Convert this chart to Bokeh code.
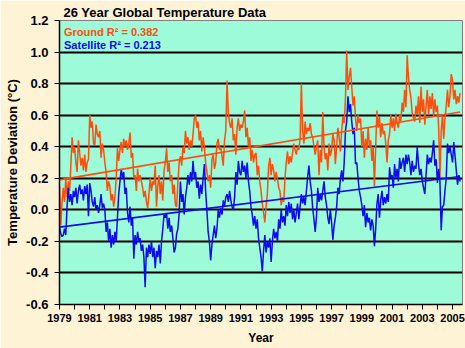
import numpy as np
from bokeh.plotting import figure
from bokeh.models import Range1d, FixedTicker, Label
from bokeh.embed import file_html
from bokeh.resources import INLINE

start_year = 1979

ground = [
    0.15, -0.10, 0.05, 0.14, 0.05, 0.20, 0.08, 0.18, 0.12, 0.28, 0.46, 0.36,   # 1979
    0.40, 0.30, 0.24, 0.44, 0.36, 0.28, 0.33, 0.25, 0.35, 0.24, 0.30, 0.32,    # 1980
    0.60, 0.52, 0.56, 0.42, 0.41, 0.54, 0.48, 0.46, 0.50, 0.33, 0.42, 0.38,    # 1981
    0.30, 0.24, 0.12, 0.18, 0.15, 0.06, 0.10, 0.02, 0.08, 0.20, 0.39, 0.31,    # 1982
    0.38, 0.43, 0.36, 0.45, 0.40, 0.44, 0.38, 0.42, 0.49, 0.33, 0.36, 0.20,    # 1983
    0.22, 0.12, 0.26, 0.18, 0.22, 0.18, 0.14, 0.08, 0.12, 0.05, 0.01, 0.10,    # 1984
    0.20, 0.12, 0.18, 0.16, 0.28, 0.02, 0.15, 0.22, 0.10, 0.18, 0.06, 0.25,    # 1985
    0.30, 0.39, 0.24, 0.30, 0.18, 0.22, 0.10, 0.16, 0.03, 0.02, 0.18, 0.30,    # 1986
    0.34, 0.28, 0.40, 0.36, 0.50, 0.42, 0.46, 0.38, 0.44, 0.40, 0.48, 0.58,    # 1987
    0.60, 0.52, 0.56, 0.44, 0.50, 0.37, 0.46, 0.40, 0.30, 0.24, 0.18, 0.22,    # 1988
    0.14, 0.32, 0.35, 0.26, 0.30, 0.42, 0.45, 0.38, 0.40, 0.34, 0.28, 0.44,    # 1989
    0.50, 0.82, 0.62, 0.55, 0.52, 0.58, 0.44, 0.48, 0.35, 0.52, 0.58, 0.50,    # 1990
    0.54, 0.52, 0.56, 0.63, 0.46, 0.52, 0.40, 0.46, 0.31, 0.38, 0.30, 0.35,    # 1991
    0.36, 0.22, 0.28, 0.18, 0.12, 0.04, -0.02, -0.08, 0.02, 0.10, 0.28, 0.33,  # 1992
    0.22, 0.29, 0.25, 0.18, 0.24, 0.20, 0.14, 0.12, 0.03, 0.08, 0.05, 0.20,    # 1993
    0.30, 0.37, 0.29, 0.34, 0.30, 0.36, 0.42, 0.38, 0.35, 0.40, 0.38, 0.45,    # 1994
    0.80, 0.50, 0.42, 0.56, 0.48, 0.52, 0.50, 0.55, 0.48, 0.46, 0.40, 0.35,    # 1995
    0.40, 0.44, 0.22, 0.38, 0.30, 0.62, 0.40, 0.32, 0.36, 0.25, 0.42, 0.34,    # 1996
    0.38, 0.48, 0.44, 0.29, 0.40, 0.52, 0.46, 0.37, 0.50, 0.59, 0.55, 0.70,    # 1997
    1.01, 0.76, 0.84, 0.90, 0.78, 0.66, 0.72, 0.58, 0.50, 0.60, 0.55, 0.58,    # 1998
    0.40, 0.50, 0.33, 0.45, 0.38, 0.52, 0.40, 0.44, 0.31, 0.40, 0.15, 0.40,    # 1999
    0.63, 0.52, 0.59, 0.46, 0.55, 0.48, 0.50, 0.42, 0.30, 0.44, 0.48, 0.60,    # 2000
    0.52, 0.58, 0.50, 0.61, 0.55, 0.52, 0.60, 0.56, 0.68, 0.62, 0.76, 0.65,    # 2001
    0.98, 0.84, 0.76, 0.71, 0.61, 0.58, 0.56, 0.66, 0.60, 0.72, 0.55, 0.78,    # 2002
    0.62, 0.70, 0.54, 0.66, 0.76, 0.60, 0.72, 0.64, 0.74, 0.59, 0.70, 0.62,    # 2003
    0.66, 0.52, 0.20, 0.50, 0.60, 0.45, 0.58, 0.66, 0.76, 0.65, 0.72, 0.86,    # 2004
    0.82, 0.70, 0.76, 0.67, 0.72, 0.68, 0.74,                                  # 2005
]

satellite = [
    -0.11, -0.15, -0.17, -0.16, -0.12, -0.16, 0.02, 0.14, 0.05, 0.10, 0.03, 0.12,      # 1979
    0.08, 0.14, 0.04, 0.12, 0.16, 0.10, 0.13, 0.06, 0.15, 0.10, 0.16, -0.04,           # 1980
    0.17, 0.12, 0.05, 0.02, 0.08, 0.00, 0.03, -0.02, 0.03, 0.10, 0.01, 0.04,           # 1981
    0.00, -0.14, -0.08, -0.20, -0.12, -0.24, -0.16, -0.22, -0.14, -0.20, -0.05, 0.10,  # 1982
    0.18, 0.26, 0.20, 0.24, 0.10, 0.14, -0.02, -0.08, 0.02, -0.10, -0.05, -0.31,       # 1983
    -0.16, -0.22, -0.14, -0.20, -0.18, -0.26, -0.22, -0.30, -0.49, -0.24, -0.30, -0.22,  # 1984
    -0.28, -0.20, -0.30, -0.24, -0.37, -0.26, -0.30, -0.22, -0.34, -0.20, -0.12, -0.03,  # 1985
    -0.05, -0.02, -0.12, -0.05, -0.14, -0.10, -0.18, -0.27, -0.24, -0.15, -0.12, -0.02,  # 1986
    0.18, 0.05, 0.10, -0.03, 0.08, 0.14, 0.22, 0.16, 0.24, 0.18, 0.31, 0.20,           # 1987
    0.24, 0.14, 0.18, 0.07, 0.16, 0.10, 0.20, 0.29, 0.12, 0.00, -0.14, -0.20,          # 1988
    -0.32, -0.22, -0.16, -0.10, -0.18, -0.12, 0.00, -0.05, 0.01, -0.03, 0.06, 0.02,    # 1989
    0.08, 0.10, 0.05, 0.12, 0.06, 0.02, 0.00, 0.08, 0.24, 0.16, 0.31, 0.24,            # 1990
    0.22, 0.31, 0.24, 0.28, 0.20, 0.30, 0.18, 0.12, 0.02, -0.03, -0.10, -0.04,         # 1991
    -0.12, -0.06, -0.18, -0.24, -0.30, -0.39, -0.26, -0.16, -0.27, -0.20, -0.24, -0.18,  # 1992
    -0.33, -0.20, -0.12, -0.18, -0.14, -0.20, -0.06, -0.12, 0.00, -0.08, -0.04, -0.10,   # 1993
    0.03, -0.04, 0.05, -0.02, 0.04, -0.06, 0.00, -0.08, -0.02, 0.04, -0.06, 0.02,      # 1994
    0.10, 0.04, 0.08, 0.03, 0.12, 0.21, 0.28, 0.18, 0.12, 0.01, -0.06, -0.14,          # 1995
    -0.04, 0.14, 0.05, 0.10, 0.06, 0.12, 0.18, 0.08, 0.03, -0.05, -0.09, 0.00,         # 1996
    -0.08, -0.19, -0.10, -0.05, 0.02, 0.14, 0.10, 0.20, 0.25, 0.18, 0.30, 0.50,        # 1997
    0.56, 0.72, 0.62, 0.67, 0.56, 0.48, 0.52, 0.29, 0.30, 0.20, 0.12, 0.08,            # 1998
    0.03, -0.04, 0.03, -0.11, -0.02, -0.08, -0.05, -0.13, -0.06, -0.10, -0.23, -0.12,  # 1999
    0.04, 0.10, -0.05, 0.06, 0.12, 0.03, 0.08, 0.04, 0.10, 0.05, 0.27, 0.20,           # 2000
    0.22, 0.14, 0.29, 0.20, 0.26, 0.18, 0.33, 0.26, 0.30, 0.33, 0.24, 0.35,            # 2001
    0.29, 0.35, 0.30, 0.22, 0.31, 0.24, 0.28, 0.26, 0.40, 0.29, 0.22, 0.26,            # 2002
    0.18, 0.14, 0.10, 0.22, 0.35, 0.29, 0.33, 0.30, 0.36, 0.44, 0.28, 0.32,            # 2003
    0.17, 0.26, 0.18, -0.13, 0.02, 0.03, 0.12, 0.20, 0.42, 0.36, 0.40, 0.35,           # 2004
    0.30, 0.43, 0.34, 0.25, 0.16, 0.22, 0.18,                                          # 2005
]

y_ticks = [-0.6, -0.4, -0.2, 0.0, 0.2, 0.4, 0.6, 0.8, 1.0, 1.2]
y_tick_labels = ["-0.6", "-0.4", "-0.2", "0.0", "0.2", "0.4", "0.6", "0.8", "1.0", "1.2"]
x_label_years = list(range(1979, 2006, 2))
x_minor_years = list(range(1980, 2006, 2))

legend_ground = "Ground R\u00b2 = 0.382"
legend_satellite = "Satellite R\u00b2 = 0.213"
title_text = "26 Year Global Temperature Data"

GROUND_COLOR = "#ff4e0c"
SAT_COLOR = "#0c0cf0"
FONT = "Liberation Sans"

t = start_year + np.arange(len(ground)) / 12.0
ts = start_year + np.arange(len(satellite)) / 12.0

g_fit = np.polyfit(t, ground, 1)
s_fit = np.polyfit(ts, satellite, 1)
t_end = np.array([t[0], t[-1]])
ts_end = np.array([ts[0], ts[-1]])

p = figure(width=465, height=348, output_backend="svg", toolbar_location=None,
           x_range=Range1d(1979, 2005.66), y_range=Range1d(-0.6, 1.2),
           min_border_left=59, min_border_right=3, min_border_top=20, min_border_bottom=44)

p.background_fill_color = "#9dfbd9"
p.border_fill_color = "#fff3d6"
p.outline_line_color = "#7f7f7f"
p.outline_line_width = 1

p.title.text = title_text
p.title.text_font = FONT
p.title.text_font_size = "13px"
p.title.text_font_style = "bold"
p.title.align = "left"
p.title.offset = 4
p.title.standoff = 2
p.title.text_color = "black"

p.line(t, ground, line_color=GROUND_COLOR, line_width=1.5)
p.line(ts, satellite, line_color=SAT_COLOR, line_width=1.5)
p.line(t_end, np.polyval(g_fit, t_end), line_color=GROUND_COLOR, line_width=1.6)
p.line(ts_end, np.polyval(s_fit, ts_end), line_color=SAT_COLOR, line_width=1.6)

p.yaxis.ticker = FixedTicker(ticks=y_ticks)
p.yaxis.major_label_overrides = {v: s for v, s in zip(y_ticks, y_tick_labels)}
p.xaxis.ticker = FixedTicker(ticks=x_label_years, minor_ticks=x_minor_years)
p.xaxis.major_label_overrides = {y: str(y) for y in x_label_years}

for ax in (p.xaxis, p.yaxis):
    ax.axis_line_color = "black"
    ax.axis_line_width = 1.5
    ax.major_tick_line_color = "black"
    ax.major_tick_out = 5
    ax.major_tick_in = 0
    ax.major_label_text_font = FONT
    ax.major_label_text_font_style = "bold"
    ax.major_label_text_color = "black"
    ax.axis_label_text_font = FONT
    ax.axis_label_text_font_style = "bold"
    ax.axis_label_text_color = "black"
    ax.axis_label_text_font_size = "12px"

p.yaxis.major_label_text_font_size = "13px"
p.yaxis.major_label_standoff = 6
p.yaxis.minor_tick_line_color = None
p.yaxis.axis_label = "Temperature Deviation (\u00b0C)"
p.yaxis.axis_label_text_font_size = "13px"
p.yaxis.axis_label_standoff = 3

p.xaxis.major_label_text_font_size = "11px"
p.xaxis.major_label_standoff = 4
p.xaxis.minor_tick_line_color = "black"
p.xaxis.minor_tick_out = 5
p.xaxis.minor_tick_in = 0
p.xaxis.axis_label = "Year"
p.xaxis.axis_label_standoff = 6

p.xgrid.grid_line_color = None
p.ygrid.ticker = FixedTicker(ticks=y_ticks[1:-1])
p.ygrid.grid_line_color = "black"
p.ygrid.grid_line_width = 2

p.add_layout(Label(x=1979.3, y=1.125, text=legend_ground, text_color=GROUND_COLOR,
                   text_font=FONT, text_font_size="11px", text_font_style="bold",
                   text_baseline="middle"))
p.add_layout(Label(x=1979.3, y=1.045, text=legend_satellite, text_color=SAT_COLOR,
                   text_font=FONT, text_font_size="11px", text_font_style="bold",
                   text_baseline="middle"))

open("out.html", "w").write(file_html(p, INLINE))
